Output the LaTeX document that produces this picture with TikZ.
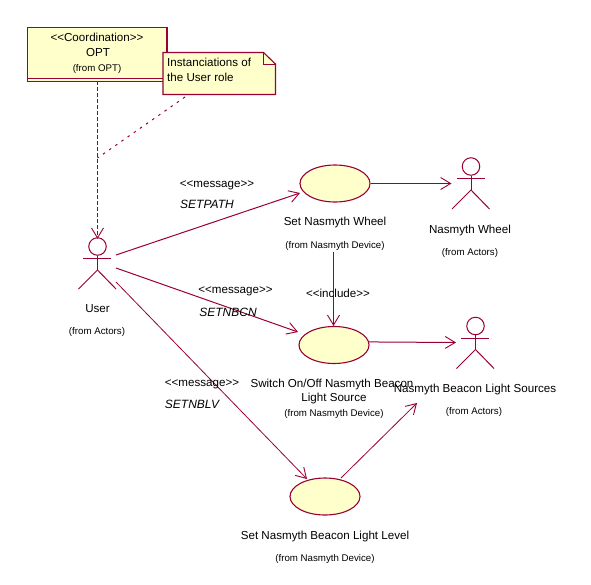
\documentclass[tikz,border=0pt]{standalone}
\usepackage{fontspec}
\setmainfont{Liberation Sans}
\usetikzlibrary{arrows.meta,shapes.geometric}
\definecolor{umlline}{HTML}{990033}
\definecolor{umlfill}{HTML}{FFFFCC}
\tikzset{
  x=1pt,y=-1pt,
  line/.style={draw=umlline,line width=1pt},
  conn/.style={line,-{Straight Barb[length=10pt,width=12pt,line width=0.9pt]}},
  usecase/.style={ellipse,draw=umlline,line width=1.1pt,fill=umlfill,minimum width=70pt,minimum height=37pt,inner sep=0pt},
  lab/.style={font=\fontsize{11.6}{13}\selectfont,inner sep=0pt,text=black},
  small/.style={font=\fontsize{9.7}{10}\selectfont,inner sep=0pt,text=black},
  ital/.style={font=\fontsize{12}{13}\selectfont\itshape,inner sep=0pt,text=black},
  head/.style={circle,draw=umlline,line width=1pt,minimum size=17.5pt,inner sep=0pt}
}
\newcommand{\actor}[3]{% name, x, head y
  \node[head] (#1) at (#2,#3) {};
  \coordinate (#1hip) at (#2,#3+23.5);
  \draw[line] (#1.south) -- (#1hip);
  \draw[line] (#2-14.5,#3+12) -- (#2+13.5,#3+12);
  \draw[line] (#1hip) -- (#2-19,#3+42.5);
  \draw[line] (#1hip) -- (#2+18.5,#3+42.5);
}
\begin{document}
\begin{tikzpicture}
\useasboundingbox (0,0) rectangle (591,584);
\fill[white] (0,0) rectangle (591,584);

% class box
\node[draw=umlline,line width=1.1pt,fill=umlfill,minimum width=139.5pt,minimum height=54pt,inner sep=0pt] (opt) at (97.25,54.5) {};
\draw[line] (opt.west |- 0,78) -- (opt.east |- 0,78);
\node[lab] (optst) at (97,37.5) {<{}<Coordination>{}>};
\node[lab] (optnm) at (98,53) {OPT};
\node[small] (optfr) at (97,69) {(from OPT)};

% actors
\actor{user}{97.5}{246.5}
\actor{wheel}{471}{166.5}
\actor{beacon}{475.5}{326}

% use cases
\node[usecase] (uc1) at (335,183.5) {};
\node[usecase] (uc2) at (334,345) {};
\node[usecase] (uc3) at (325,496.5) {};

% named connector ends
\coordinate (userA) at (116,255);
\coordinate (userB) at (116,268);
\coordinate (userC) at (116,282);
\coordinate (uc1in) at (300,193);
\coordinate (uc2in) at (298,332);
\coordinate (uc3in) at (307,479);
\coordinate (wheelin) at (451.5,183.5);
\coordinate (beaconin) at (456,342.5);
\coordinate (uc3out) at (341,478);
\coordinate (beaconlab) at (417,403);
\coordinate (uc1from) at (333.5,252);
\coordinate (optfoot) at (97.5,81);
\coordinate (bend) at (97.5,158);
\coordinate (noteout) at (185,97);

% note
\node[minimum width=112.5pt,minimum height=42pt,inner sep=0pt] (note) at (219.25,73.5) {};
\draw[line,fill=umlfill,line width=1.1pt] (163,52.5) -- (263.5,52.5) -- (275.5,64) -- (275.5,94.5) -- (163,94.5) -- cycle;
\draw[line] (263.5,52.5) -- (263.5,64) -- (275.5,64);
\node[lab,anchor=west] (note1) at (167,62.5) {Instanciations of};
\node[lab,anchor=west] (note2) at (167,77.5) {the User role};

% connectors
\draw[conn,dash pattern=on 3.5pt off 2.5pt] (optfoot) -- ([yshift=-1.5pt]user.north);
\draw[line,dash pattern=on 2.5pt off 5pt] (noteout) -- (bend);
\draw[conn] (userA) -- (uc1in);
\draw[conn] (userB) -- (uc2in);
\draw[conn,line width=0.8pt] (userC) -- (uc3in);
\draw[conn] (uc1.east) -- (wheelin);
\draw[conn] (uc2.5) -- (beaconin);
\draw[conn] (uc1from) -- (uc2.north -| uc1from);
\draw[conn,line width=0.8pt] (uc3out) -- (beaconlab);

% labels
\node[lab] (uname) at (97.5,308.5) {User};
\node[small] (ufrom) at (97,331.5) {(from Actors)};
\node[lab] (m1) at (217,185) {<{}<message>{}>};
\node[ital] (s1) at (207,204.5) {SETPATH};
\node[lab] (m2) at (235.5,291) {<{}<message>{}>};
\node[ital] (s2) at (228,312.5) {SETNBCN};
\node[lab] (m3) at (202,384) {<{}<message>{}>};
\node[ital] (s3) at (192,404.5) {SETNBLV};
\node[lab] (inc) at (338,293.5) {<{}<include>{}>};
\node[lab] (t1) at (335,222) {Set Nasmyth Wheel};
\node[small] (f1) at (335,245.5) {(from Nasmyth Device)};
\node[lab] (t2) at (470,230) {Nasmyth Wheel};
\node[small] (f2) at (470,253) {(from Actors)};
\node[lab] (t3a) at (332,384) {Switch On/Off Nasmyth Beacon};
\node[lab] (t3b) at (334,398) {Light Source};
\node[small] (f3) at (334,413.5) {(from Nasmyth Device)};
\node[lab] (t4) at (475,389) {Nasmyth Beacon Light Sources};
\node[small] (f4) at (474,411.5) {(from Actors)};
\node[lab] (t5) at (325,536) {Set Nasmyth Beacon Light Level};
\node[small] (f5) at (325,558.5) {(from Nasmyth Device)};
\end{tikzpicture}
\end{document}
